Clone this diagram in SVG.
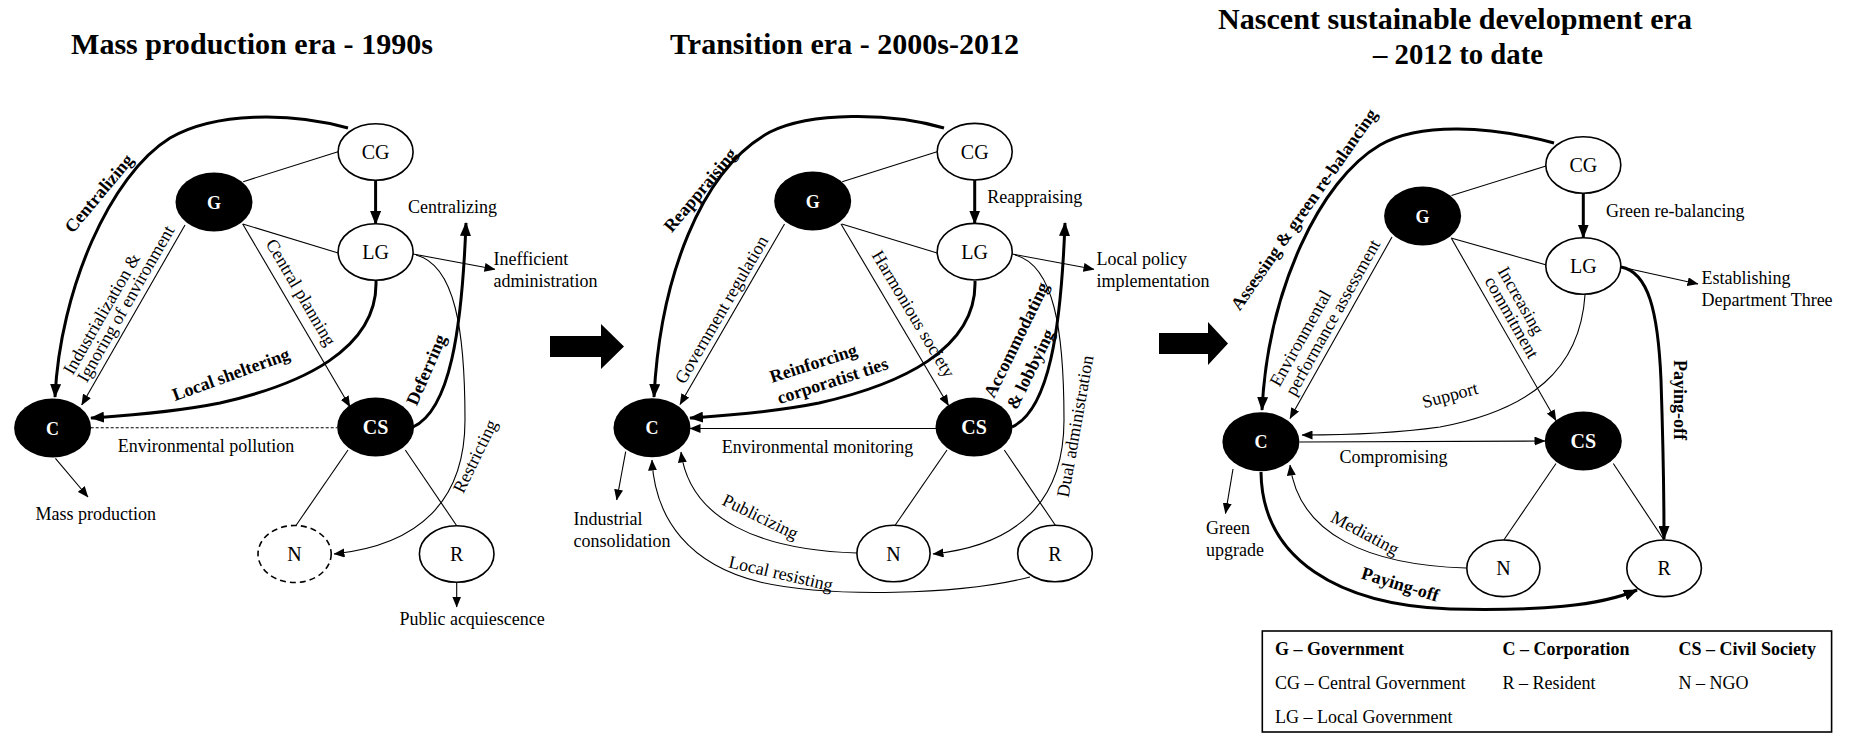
<svg xmlns="http://www.w3.org/2000/svg" width="1854" height="733" viewBox="0 0 1854 733">
<style>
text{font-family:"Liberation Serif","Times New Roman",serif;fill:#000}
.t{font-size:30px;font-weight:bold}
.l{font-size:18px}
.b{font-size:18px;font-weight:bold}
.m{text-anchor:middle}
.nl{font-size:20px;text-anchor:middle}
.nf{font-weight:bold;fill:#fff;text-anchor:middle}
.on{fill:#fff;stroke:#000;stroke-width:1.6}
.dn{fill:#fff;stroke:#000;stroke-width:1.6;stroke-dasharray:6 4}
.fn{fill:#000}
.thin{fill:none;stroke:#000;stroke-width:1.1}
.thick{fill:none;stroke:#000;stroke-width:3}
.dash{fill:none;stroke:#000;stroke-width:1.1;stroke-dasharray:3 2}
.ar{marker-end:url(#ah)}
.arb{marker-end:url(#ahb)}
</style>
<defs>
<marker id="ah" markerUnits="userSpaceOnUse" markerWidth="11" markerHeight="9" refX="10.5" refY="4.5" orient="auto"><path d="M0,0 L11,4.5 L0,9 z" fill="#000"/></marker>
<marker id="ahb" markerUnits="userSpaceOnUse" markerWidth="14" markerHeight="11" refX="13" refY="5.5" orient="auto"><path d="M0,0 L14,5.5 L0,11 z" fill="#000"/></marker>
</defs>

<!-- titles -->
<text class="t" x="71" y="54" textLength="362" lengthAdjust="spacingAndGlyphs">Mass production era - 1990s</text>
<text class="t" x="670" y="54" textLength="349" lengthAdjust="spacingAndGlyphs">Transition era - 2000s-2012</text>
<text class="t m" x="1455" y="28.5" textLength="474" lengthAdjust="spacingAndGlyphs">Nascent sustainable development era</text>
<text class="t m" x="1458" y="63.5" textLength="170" lengthAdjust="spacingAndGlyphs">– 2012 to date</text>

<!-- era arrows -->
<polygon points="550,336 601,336 601,324 624,346.5 601,369 601,357 550,357" fill="#000"/>
<polygon points="1159,333 1208,333 1208,322 1228,343.5 1208,365 1208,354 1159,354" fill="#000"/>

<g id="connectors">
<!-- panel 1 -->
<path class="thin" d="M338 151.7 L243.2 181.7"/>
<path class="thin" d="M242.7 224 L339 253.3"/>
<path class="thick arb" d="M375.6 180.3 L375.6 224"/>
<path class="thin ar" d="M185 225 L81.7 405"/>
<path class="thin ar" d="M242.7 224 L350 406.7"/>
<path class="thick arb" d="M348 128 C290 112,215 112,170 138 C110 175,60 290,55 397"/>
<path class="thick arb" d="M376 281 C378 350,300 385,220 403 C170 413,120 416,91 418"/>
<path class="dash" d="M90.7 427.7 L337 427.7"/>
<path class="thick arb" d="M413 427 C450 410,462 330,466 223"/>
<path class="thin ar" d="M413 254 L495 269.3"/>
<path class="thin ar" d="M416 255 C455 265,465 330,465 420 C465 500,420 545,334 554"/>
<path class="thin" d="M348 450 L295.8 525.7"/>
<path class="thin" d="M405.3 450 L456.7 525.7"/>
<path class="thin ar" d="M456.7 582.5 L456.7 607"/>
<path class="thin ar" d="M55.4 458.3 L88 497"/>
<!-- panel 2 -->
<path class="thin" d="M937 151.7 L842.2 181.7"/>
<path class="thin" d="M841.7 224 L938 253.3"/>
<path class="thick arb" d="M974.7 180 L974.7 223.5"/>
<path class="thin ar" d="M784.5 224 L680 404.5"/>
<path class="thin ar" d="M841 224 L948.5 405.5"/>
<path class="thick arb" d="M944 128 C890 112,810 112,770 132 C700 170,660 280,654 397"/>
<path class="thick arb" d="M975 281 C977 350,899 385,819 403 C769 413,719 416,690 418"/>
<path class="thin ar" d="M936 428.5 L690 428.5"/>
<path class="thick arb" d="M1012 427 C1049 410,1061 330,1065 223"/>
<path class="thin ar" d="M1012 254 L1094 269.3"/>
<path class="thin ar" d="M1015 255 C1054 265,1064 330,1064 420 C1064 500,1019 545,933 554"/>
<path class="thin" d="M947 450 L894.8 525.7"/>
<path class="thin" d="M1004.3 450 L1055.7 525.7"/>
<path class="thin ar" d="M857 553 C760 550,690 520,681 452"/>
<path class="thin ar" d="M1030 577 C960 595,830 598,760 582 C690 565,655 520,652 460"/>
<path class="thin ar" d="M625.7 451.7 L616.7 500"/>
<!-- panel 3 -->
<path class="thin" d="M1546 166 L1451.5 195.5"/>
<path class="thin" d="M1451 238 L1546.5 265"/>
<path class="thick arb" d="M1583.3 193.5 L1583.3 237.5"/>
<path class="thin ar" d="M1392 237 L1290 418.5"/>
<path class="thin ar" d="M1451.5 238.5 L1556 420.5"/>
<path class="thick arb" d="M1554 143 C1490 126,1420 122,1380 145 C1320 180,1268 290,1262 410"/>
<path class="thick arb" d="M1621 267 C1648 272,1658 310,1661 380 C1663 440,1664 500,1664 539"/>
<path class="thin ar" d="M1621 267 L1698 284"/>
<path class="thin ar" d="M1585 295 C1580 370,1530 410,1440 427 C1390 434,1340 435,1302 435"/>
<path class="thin ar" d="M1299.5 442 L1545 441"/>
<path class="thin" d="M1556 463.5 L1503.8 540"/>
<path class="thin" d="M1613.3 463.5 L1664 540"/>
<path class="thin ar" d="M1466 568 C1369 565,1299 535,1290 465"/>
<path class="thick arb" d="M1261 472 C1262 560,1340 605,1450 609 C1540 611,1600 606,1637 590"/>
<path class="thin ar" d="M1233 469 L1225.5 513.5"/>
</g>

<g id="labels">
<!-- panel 1 -->
<text class="b m" transform="translate(103.5 197.2) rotate(-50)">Centralizing</text>
<text class="l m" transform="translate(106.7 316.7) rotate(-60.1)">Industrialization &amp;</text>
<text class="l m" transform="translate(130.9 306.7) rotate(-60.1)">Ignoring of environment</text>
<text class="l m" transform="translate(295.8 295.4) rotate(59.6)">Central planning</text>
<text class="b m" transform="translate(233 380) rotate(-20)">Local sheltering</text>
<text class="b m" transform="translate(431.7 372.1) rotate(-66.6)">Deferring</text>
<text class="l m" transform="translate(480.5 458.8) rotate(-64)">Restricting</text>
<text class="l m" x="206" y="451.7">Environmental pollution</text>
<text class="l" x="408" y="212.5">Centralizing</text>
<text class="l" x="493.5" y="265">Inefficient</text>
<text class="l" x="493.5" y="287">administration</text>
<text class="l" x="35.6" y="520">Mass production</text>
<text class="l" x="399.4" y="625">Public acquiescence</text>
<!-- panel 2 -->
<text class="b m" transform="translate(704.8 193.9) rotate(-50)">Reappraising</text>
<text class="l m" transform="translate(726.6 312.7) rotate(-59.8)">Government regulation</text>
<text class="l m" transform="translate(908.3 317) rotate(59.2)">Harmonious society</text>
<text class="b m" transform="translate(815.2 369) rotate(-18)">Reinforcing</text>
<text class="b m" transform="translate(834.4 386.5) rotate(-18)">corporatist ties</text>
<text class="b m" transform="translate(1021.7 342.5) rotate(-64)">Accommodating</text>
<text class="b m" transform="translate(1035.8 371.7) rotate(-64)">&amp; lobbying</text>
<text class="l m" transform="translate(1081 427.3) rotate(-80)">Dual administration</text>
<text class="l m" x="817.5" y="453.3">Environmental monitoring</text>
<text class="l" x="987.3" y="203.3">Reappraising</text>
<text class="l" x="1096.5" y="265">Local policy</text>
<text class="l" x="1096.5" y="287">implementation</text>
<text class="l" x="573.5" y="525">Industrial</text>
<text class="l" x="573.5" y="547">consolidation</text>
<text class="l m" transform="translate(757.8 522.1) rotate(26)">Publicizing</text>
<text class="l m" transform="translate(779.5 579.2) rotate(13)">Local resisting</text>
<!-- panel 3 -->
<text class="b m" transform="translate(1308.9 212.8) rotate(-55)">Assessing &amp; green re-balancing</text>
<text class="l m" transform="translate(1305.6 341.1) rotate(-60.75)">Environmental</text>
<text class="l m" transform="translate(1337.9 320.4) rotate(-60.75)">performance assessment</text>
<text class="l m" transform="translate(1515.8 303.5) rotate(60.4)">Increasing</text>
<text class="l m" transform="translate(1506.6 320.2) rotate(60.4)">commitment</text>
<text class="l" x="1606" y="216.5">Green re-balancing</text>
<text class="l" x="1701.5" y="284">Establishing</text>
<text class="l" x="1701.5" y="306">Department Three</text>
<text class="b m" transform="translate(1674 400) rotate(90)">Paying-off</text>
<text class="l m" transform="translate(1451.6 400.8) rotate(-15)">Support</text>
<text class="l" x="1339.5" y="463.3">Compromising</text>
<text class="l" x="1206" y="534">Green</text>
<text class="l" x="1206" y="556">upgrade</text>
<text class="l m" transform="translate(1362.2 538.3) rotate(28)">Mediating</text>
<text class="b m" transform="translate(1398.6 590) rotate(17)">Paying-off</text>
</g>

<!-- panel 1 nodes -->
<g id="p1-CG"><ellipse class="on" cx="375.6" cy="152" rx="37.5" ry="28.3"/><text class="nl" x="375.6" y="159">CG</text></g>
<g id="p1-G"><ellipse class="fn" cx="214" cy="202" rx="38.5" ry="29.5"/><text class="nf" style="font-size:18px" x="214" y="208.5">G</text></g>
<g id="p1-LG"><ellipse class="on" cx="375.6" cy="252" rx="37.5" ry="28.3"/><text class="nl" x="375.6" y="259">LG</text></g>
<g id="p1-C"><ellipse class="fn" cx="52.6" cy="428" rx="38.5" ry="29.5"/><text class="nf" style="font-size:18px" x="52.6" y="434.5">C</text></g>
<g id="p1-CS"><ellipse class="fn" cx="375.6" cy="427" rx="38.5" ry="29.5"/><text class="nf" style="font-size:20px" x="375.6" y="434">CS</text></g>
<g id="p1-N"><ellipse class="dn" cx="294.6" cy="554" rx="36.6" ry="28.5"/><text class="nl" x="294.6" y="561">N</text></g>
<g id="p1-R"><ellipse class="on" cx="456.7" cy="554" rx="37.3" ry="28.3"/><text class="nl" x="456.7" y="561">R</text></g>

<!-- panel 2 nodes -->
<g id="p2-CG"><ellipse class="on" cx="974.7" cy="151.7" rx="37.5" ry="28.3"/><text class="nl" x="974.7" y="158.7">CG</text></g>
<g id="p2-G"><ellipse class="fn" cx="812.7" cy="201" rx="38.5" ry="29.5"/><text class="nf" style="font-size:18px" x="812.7" y="207.5">G</text></g>
<g id="p2-LG"><ellipse class="on" cx="974.7" cy="251.7" rx="37.5" ry="28.3"/><text class="nl" x="974.7" y="258.7">LG</text></g>
<g id="p2-C"><ellipse class="fn" cx="652" cy="427.7" rx="38.5" ry="29.5"/><text class="nf" style="font-size:18px" x="652" y="434.2">C</text></g>
<g id="p2-CS"><ellipse class="fn" cx="974" cy="427" rx="38.5" ry="29.5"/><text class="nf" style="font-size:20px" x="974" y="434">CS</text></g>
<g id="p2-N"><ellipse class="on" cx="893.5" cy="553.5" rx="36.6" ry="28.3"/><text class="nl" x="893.5" y="560.5">N</text></g>
<g id="p2-R"><ellipse class="on" cx="1055" cy="553.5" rx="37.3" ry="28.3"/><text class="nl" x="1055" y="560.5">R</text></g>

<!-- panel 3 nodes -->
<g id="p3-CG"><ellipse class="on" cx="1583.3" cy="165" rx="37.5" ry="28.3"/><text class="nl" x="1583.3" y="172">CG</text></g>
<g id="p3-G"><ellipse class="fn" cx="1422.6" cy="216" rx="38.5" ry="29.5"/><text class="nf" style="font-size:18px" x="1422.6" y="222.5">G</text></g>
<g id="p3-LG"><ellipse class="on" cx="1583.3" cy="266" rx="37.5" ry="28.3"/><text class="nl" x="1583.3" y="273">LG</text></g>
<g id="p3-C"><ellipse class="fn" cx="1260.9" cy="441.7" rx="38.5" ry="29.5"/><text class="nf" style="font-size:18px" x="1260.9" y="448.2">C</text></g>
<g id="p3-CS"><ellipse class="fn" cx="1583.3" cy="441" rx="38.5" ry="29.5"/><text class="nf" style="font-size:20px" x="1583.3" y="448">CS</text></g>
<g id="p3-N"><ellipse class="on" cx="1503.4" cy="568.3" rx="36.6" ry="28.3"/><text class="nl" x="1503.4" y="575.3">N</text></g>
<g id="p3-R"><ellipse class="on" cx="1664.1" cy="568.3" rx="37.3" ry="28.3"/><text class="nl" x="1664.1" y="575.3">R</text></g>

<!-- legend -->
<g id="legend">
<rect x="1262.3" y="631" width="569.3" height="101" fill="#fff" stroke="#000" stroke-width="1.6"/>
<text class="b" x="1275" y="655">G – Government</text>
<text class="b" x="1502.5" y="655">C – Corporation</text>
<text class="b" x="1678.5" y="655">CS – Civil Society</text>
<text class="l" x="1275" y="689">CG – Central Government</text>
<text class="l" x="1502.5" y="689">R – Resident</text>
<text class="l" x="1678.5" y="689">N – NGO</text>
<text class="l" x="1275" y="722.7">LG – Local Government</text>
</g>
</svg>
